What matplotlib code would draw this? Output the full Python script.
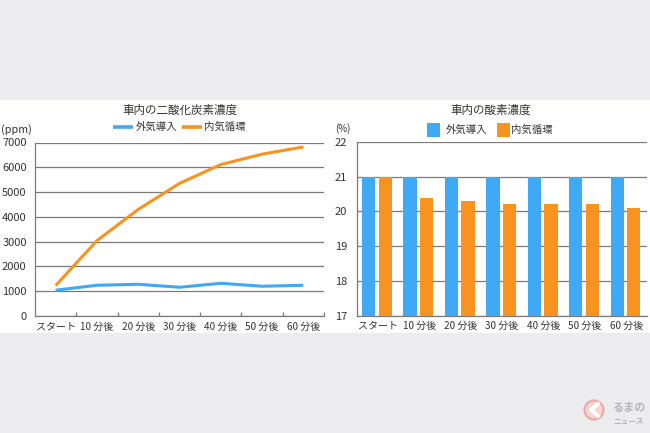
import matplotlib.pyplot as plt
import matplotlib.patches as mpatches
import numpy as np

plt.rcParams['font.family'] = ['Noto Sans CJK JP', 'DejaVu Sans']

# データ
categories = ["スタート", "10 分後", "20 分後", "30 分後", "40 分後", "50 分後", "60 分後"]
co2_outside = [1040, 1240, 1280, 1160, 1320, 1200, 1240]
co2_recirc = [1230, 3040, 4300, 5350, 6110, 6530, 6820]
o2_outside = [21.0, 21.0, 21.0, 21.0, 21.0, 21.0, 21.0]
o2_recirc = [21.0, 20.4, 20.3, 20.2, 20.2, 20.2, 20.1]
series_names = ["外気導入", "内気循環"]

BLUE = "#3fa9f5"
ORANGE = "#f7931e"
GRID = "#7a7a7a"
TEXT = "#333333"

W, H = 650, 433
fig = plt.figure(figsize=(6.5, 4.33), dpi=100, facecolor="#ececee")

# 白いパネル (軸より奥)
fig.patches.append(mpatches.Rectangle((0, (H - 333) / H), 1, 233 / H, transform=fig.transFigure,
                                      facecolor="white", edgecolor="none", zorder=-10))


def px_axes(x0, x1, y_top, y_bottom):
    return fig.add_axes([x0 / W, (H - y_bottom) / H, (x1 - x0) / W, (y_bottom - y_top) / H])


x = np.arange(len(categories))

# 左: 二酸化炭素濃度
ax1 = px_axes(35, 324, 142.5, 316)
ax1.set_facecolor("none")
ax1.plot(x, co2_outside, color=BLUE, lw=2.2, solid_capstyle="butt", zorder=3)
ax1.plot(x, co2_recirc, color=ORANGE, lw=2.2, solid_capstyle="butt", zorder=3)
ax1.set_xlim(-0.5, len(categories) - 0.5)
ax1.set_ylim(0, 7000)
ax1.set_yticks(range(0, 7001, 1000))
ax1.grid(axis="y", color=GRID, lw=0.9)
ax1.set_axisbelow(True)
ax1.set_xticks(x)
ax1.set_xticklabels(categories)
ax1.set_xticks(np.append(x[:-1] + 0.5, len(categories) - 0.5), minor=True)
ax1.tick_params(axis="x", which="major", length=0, pad=4, labelsize=7.2, colors=TEXT)
ax1.tick_params(axis="x", which="minor", length=3, direction="in", color=GRID, width=0.9)
ax1.tick_params(axis="y", length=0, pad=6, labelsize=8, colors=TEXT)
for side in ["top", "right"]:
    ax1.spines[side].set_visible(False)
for side in ["left", "bottom"]:
    ax1.spines[side].set_color(GRID)
    ax1.spines[side].set_linewidth(0.9)
fig.text(16 / W, (H - 130) / H, "(ppm)", fontsize=7.8, color=TEXT, ha="center", va="center")
fig.text(180 / W, (H - 110) / H, "車内の二酸化炭素濃度", fontsize=8.3, color=TEXT, ha="center", va="center")

# 凡例 (線)
for (x0, x1, tx), color, name in zip([(113, 133, 136), (182, 202, 204)], [BLUE, ORANGE], series_names):
    fig.lines.append(plt.Line2D([x0 / W, x1 / W], [(H - 127) / H] * 2, transform=fig.transFigure,
                                color=color, lw=2.6, solid_capstyle="butt"))
    fig.text(tx / W, (H - 127) / H, name, fontsize=7.5, color=TEXT, ha="left", va="center")

# 右: 酸素濃度
ax2 = px_axes(357, 647, 142, 315.5)
ax2.set_facecolor("none")
bw = 0.32
ax2.bar(x - 0.22, o2_outside, width=bw, color=BLUE, zorder=3)
ax2.bar(x + 0.18, o2_recirc, width=bw, color=ORANGE, zorder=3)
ax2.set_xlim(-0.5, len(categories) - 0.5)
ax2.set_ylim(17, 22)
ax2.set_yticks(range(17, 23))
ax2.grid(axis="y", color=GRID, lw=0.9)
ax2.set_axisbelow(True)
ax2.set_xticks(x)
ax2.set_xticklabels(categories)
ax2.tick_params(axis="x", length=0, pad=4, labelsize=7.2, colors=TEXT)
ax2.tick_params(axis="y", length=0, pad=7, labelsize=8, colors=TEXT)
for side in ["top", "right"]:
    ax2.spines[side].set_visible(False)
for side in ["left", "bottom"]:
    ax2.spines[side].set_color(GRID)
    ax2.spines[side].set_linewidth(0.9)
fig.text(343 / W, (H - 129) / H, "(%)", fontsize=7, color=TEXT, ha="center", va="center")
fig.text(491 / W, (H - 110) / H, "車内の酸素濃度", fontsize=8.3, color=TEXT, ha="center", va="center")

# 凡例 (四角)
for (x0, tx), color, name in zip([(427, 446), (497, 511)], [BLUE, ORANGE], series_names):
    fig.patches.append(mpatches.Rectangle((x0 / W, (H - 137) / H), 13 / W, 14 / H,
                                          transform=fig.transFigure, facecolor=color, edgecolor="none"))
    fig.text(tx / W, (H - 130) / H, name, fontsize=7.5, color=TEXT, ha="left", va="center")

# ロゴ (透かし)
fig.patches.append(mpatches.Ellipse((594 / W, (H - 410) / H), 19 / W, 19 / H, transform=fig.transFigure,
                                    facecolor="#f4d4d4", edgecolor="#efa5a5", lw=1.5))
fig.lines.append(plt.Line2D([598 / W, 591 / W, 598 / W], [(H - 404) / H, (H - 410) / H, (H - 416) / H],
                            transform=fig.transFigure, color="white", lw=2.8))
fig.text(612 / W, (H - 407) / H, "るまの", fontsize=8, color="#b5b5b5", ha="left", va="center", fontweight="bold")
fig.text(613 / W, (H - 421) / H, "ニュース", fontsize=5.5, color="#b5b5b5", ha="left", va="center", fontweight="bold")

fig.savefig("out.png", dpi=100, facecolor=fig.get_facecolor())
